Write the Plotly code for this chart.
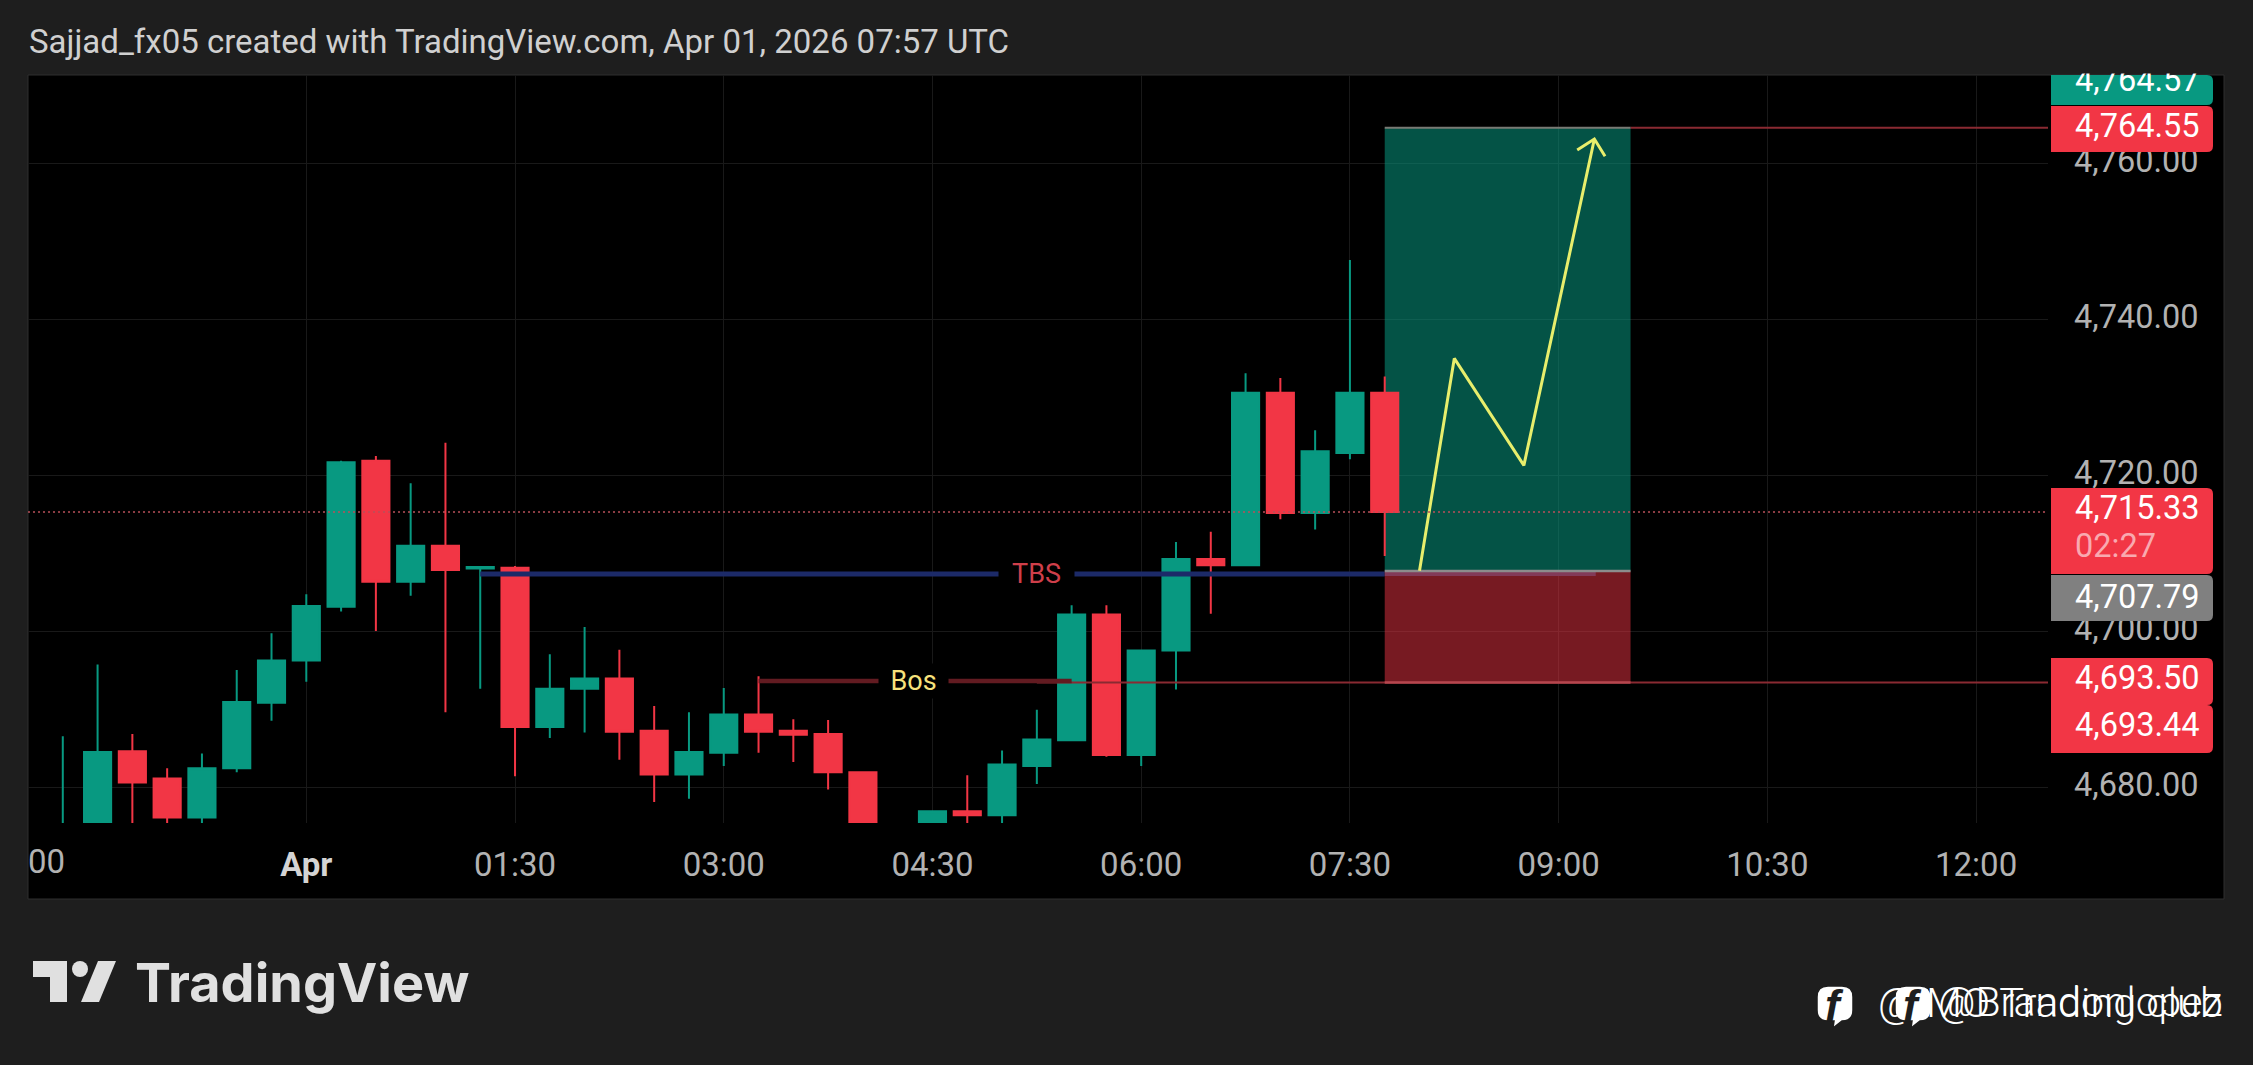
import pandas as pd
import plotly.graph_objects as go

W, H = 2253, 1065
BG = "#1e1e1e"
GREEN = "#089981"
RED = "#f23645"
GRID = "#191919"

start = pd.Timestamp("2026-03-31 22:15")
opens = [4672.0, 4674.0, 4684.7, 4681.2, 4676.2, 4682.5, 4690.9, 4696.3, 4703.2, 4721.9, 4706.4, 4711.0,
         4708.1, 4708.2, 4687.8, 4692.7, 4694.0, 4687.3, 4681.7, 4684.5, 4689.4, 4687.3, 4686.9, 4682.0,
         4674.5, 4675.5, 4677.0, 4676.5, 4682.8, 4686.1, 4702.2, 4684.2, 4697.6, 4709.3, 4708.5, 4730.6,
         4715.2, 4722.9, 4730.6]
highs = [4686.6, 4695.8, 4686.9, 4682.5, 4684.4, 4695.1, 4699.8, 4704.8, 4721.9, 4722.5, 4719.0, 4724.2,
         4708.4, 4708.4, 4697.1, 4700.6, 4697.7, 4690.5, 4689.7, 4692.8, 4694.3, 4688.8, 4688.7, 4682.1,
         4675.0, 4677.1, 4681.6, 4684.8, 4690.0, 4703.4, 4703.4, 4697.6, 4711.5, 4712.8, 4733.1, 4732.5,
         4725.8, 4747.6, 4732.7]
lows = [4670.0, 4672.0, 4674.0, 4675.5, 4675.5, 4682.0, 4688.6, 4693.6, 4702.6, 4700.1, 4704.6, 4689.7,
        4692.7, 4681.5, 4686.4, 4687.1, 4683.6, 4678.2, 4678.6, 4682.8, 4684.5, 4683.3, 4679.8, 4674.0,
        4672.0, 4675.0, 4675.5, 4675.5, 4680.5, 4686.1, 4684.0, 4682.8, 4692.6, 4702.3, 4708.5, 4714.4,
        4713.1, 4722.1, 4709.7]
closes = [4675.0, 4684.6, 4680.7, 4676.2, 4682.5, 4691.0, 4696.3, 4703.3, 4721.7, 4706.4, 4711.0, 4707.9,
          4708.3, 4687.8, 4692.7, 4694.0, 4687.2, 4681.7, 4684.6, 4689.4, 4687.2, 4686.8, 4682.0, 4675.0,
          4673.0, 4677.0, 4676.5, 4683.0, 4686.2, 4702.2, 4684.2, 4697.6, 4709.3, 4708.5, 4730.6, 4715.2,
          4723.1, 4730.6, 4715.33]
times = [start + pd.Timedelta(minutes=15 * i) for i in range(len(opens))]


def at(minutes):
    """Time on the x axis, given in minutes after 1 Apr 00:00."""
    return pd.Timestamp("2026-04-01 00:00") + pd.Timedelta(minutes=minutes)


y_ticks = [4680, 4700, 4720, 4740, 4760]
y_tick_text = ["4,680.00", "4,700.00", "4,720.00", "4,740.00", "4,760.00"]
x_tick_min = [90, 180, 270, 360, 450, 540, 630, 720, 0]
x_tick_text = ["01:30", "03:00", "04:30", "06:00", "07:30", "09:00", "10:30", "12:00",
               "<b style='color:#d4d4d4'>Apr</b>"]

target_price = 4764.55
entry_price = 4707.79
stop_price = 4693.44
bos_price = 4693.7
bos_thin_price = 4693.5
tbs_price = 4707.4
last_price = 4715.33

path_min = [480, 495, 525, 555.4]
path_val = [4707.8, 4735.0, 4721.3, 4763.1]
head_min = [548, 555.4, 560]
head_val = [4761.7, 4763.1, 4760.9]

Y_RANGE = [4675.5, 4771.3]
LABEL_LIFT = 0.38  # axis numbers sit a little above their gridlines


def px(x):
    return x / W


def py(y):
    return 1 - y / H


fig = go.Figure()


def seg(xs, ys, color, width, dash="solid"):
    fig.add_trace(go.Scatter(x=xs, y=ys, mode="lines", hoverinfo="skip", showlegend=False,
                             line=dict(color=color, width=width, dash=dash)))


seg([at(315), at(751)], [bos_thin_price] * 2, "#8a2a32", 2)
seg([at(465), at(571)], [bos_thin_price] * 2, "#b5464e", 2.5)
seg([at(195), at(330)], [bos_price] * 2, "#621b21", 4.5)
seg([at(75), at(465)], [tbs_price] * 2, "#1c2a68", 5)
seg([at(465), at(556)], [tbs_price] * 2, "#823a58", 4)
seg([at(571), at(751)], [target_price] * 2, "#8a2a32", 2)
seg([at(465), at(571)], [target_price] * 2, "#7a7a74", 2)
seg([at(465), at(571)], [entry_price] * 2, "#8c8c8c", 2.5)

fig.add_trace(go.Candlestick(
    x=times, open=opens, high=highs, low=lows, close=closes,
    increasing=dict(line=dict(color=GREEN, width=2), fillcolor=GREEN),
    decreasing=dict(line=dict(color=RED, width=2), fillcolor=RED),
    whiskerwidth=0, showlegend=False))

seg([at(m) for m in path_min], path_val, "#e8ee6c", 3)
seg([at(m) for m in head_min], head_val, "#e8ee6c", 3)

# carries the price axis numbers
fig.add_trace(go.Scatter(x=[times[0]], y=[y_ticks[0]], yaxis="y2", mode="markers", marker=dict(opacity=0),
                         hoverinfo="skip", showlegend=False))

shapes = []
shapes.append(dict(type="rect", xref="paper", yref="paper", x0=px(28), x1=px(2224), y0=py(899), y1=py(75),
                   fillcolor="#000000", line=dict(color="#2e2e2e", width=1), layer="below"))
shapes.append(dict(type="rect", x0=at(465), x1=at(571), y0=entry_price, y1=target_price,
                   fillcolor="rgba(8,153,129,0.54)", line=dict(width=0), layer="between"))
shapes.append(dict(type="rect", x0=at(465), x1=at(571), y0=stop_price, y1=entry_price,
                   fillcolor="rgba(242,54,69,0.49)", line=dict(width=0), layer="between"))
shapes.append(dict(type="line", xref="paper", x0=px(28), x1=px(2048), y0=last_price, y1=last_price,
                   line=dict(color="#b8505a", width=1.5, dash="2px,3px"), layer="above"))


def rounded(x0, x1, y0, y1, color, r=6):
    path = (f"M {px(x0)},{py(y0)} L {px(x1 - r)},{py(y0)} Q {px(x1)},{py(y0)} {px(x1)},{py(y0 + r)} "
            f"L {px(x1)},{py(y1 - r)} Q {px(x1)},{py(y1)} {px(x1 - r)},{py(y1)} L {px(x0)},{py(y1)} Z")
    shapes.append(dict(type="path", xref="paper", yref="paper", path=path, fillcolor=color,
                       line=dict(width=0), layer="above"))


rounded(2051, 2213, 75, 105, GREEN)
rounded(2051, 2213, 106, 152, RED)
rounded(2051, 2213, 488, 574, RED)
rounded(2051, 2213, 575, 621, "#808080")
rounded(2051, 2213, 658, 705, RED)
rounded(2051, 2213, 705, 753, RED)


def poly(points, color, layer="above"):
    path = "M " + " L ".join(f"{px(x)},{py(y)}" for x, y in points) + " Z"
    shapes.append(dict(type="path", xref="paper", yref="paper", path=path, fillcolor=color,
                       line=dict(width=0), layer=layer))


LOGO = "#e0e0e0"
poly([(33, 961), (67, 961), (67, 1002), (50, 1002), (50, 977), (33, 977)], LOGO)
poly([(98, 961), (116, 961), (99, 1002), (81, 1002)], LOGO)
shapes.append(dict(type="circle", xref="paper", yref="paper", x0=px(72), x1=px(88), y0=py(977), y1=py(961),
                   fillcolor=LOGO, line=dict(width=0)))


def fb(x0):
    y0, y1, x1 = 986, 1021, x0 + 36
    r = 11
    path = (f"M {px(x0 + r)},{py(y0)} L {px(x1 - r)},{py(y0)} Q {px(x1)},{py(y0)} {px(x1)},{py(y0 + r)} "
            f"L {px(x1)},{py(y1 - r)} Q {px(x1)},{py(y1)} {px(x1 - r)},{py(y1)} L {px(x0 + 25)},{py(y1)} "
            f"L {px(x0 + 16)},{py(y1 + 7)} L {px(x0 + 17)},{py(y1)} L {px(x0 + r)},{py(y1)} "
            f"Q {px(x0)},{py(y1)} {px(x0)},{py(y1 - r)} L {px(x0)},{py(y0 + r)} Q {px(x0)},{py(y0)} {px(x0 + r)},{py(y0)} Z")
    shapes.append(dict(type="path", xref="paper", yref="paper", path=path, fillcolor="#ffffff",
                       line=dict(color=BG, width=1.5), layer="above"))


fb(1817)
fb(1895)


def note(text, x, y, size, color, xanchor="left", family="Roboto", **kw):
    fig.add_annotation(text=text, xref="paper", yref="paper", x=px(x), y=py(y), showarrow=False,
                       xanchor=xanchor, yanchor="middle", align="left",
                       font=dict(family=family, size=size, color=color), **kw)


note("4,764.57", 2073, 80, 32.5, "#ffffff")
fig.add_annotation(text=" ", xref="paper", yref="paper", x=px(2051), y=py(74), xanchor="left", yanchor="bottom",
                   showarrow=False, width=170, height=30, bgcolor=BG, borderpad=0)
note("4,764.55", 2073, 126, 32.5, "#ffffff")
note("4,715.33", 2073, 508, 32.5, "#ffffff")
note("02:27", 2073, 546, 32.5, "#f9a9b0")
note("4,707.79", 2073, 597, 32.5, "#ffffff")
note("4,693.50", 2073, 678, 32.5, "#ffffff")
note("4,693.44", 2073, 725, 32.5, "#ffffff")

note("00", 67, 861, 33, "#b2b2b2", xanchor="right")

fig.add_annotation(text="TBS", x=at(315), y=tbs_price, showarrow=False, width=73, height=32, bgcolor="#000000",
                   font=dict(family="Roboto", size=27, color="#cf3f4a"))
fig.add_annotation(text="Bos", x=at(262), y=bos_price, showarrow=False, width=67, height=32, bgcolor="#000000",
                   font=dict(family="Roboto", size=27, color="#f7e27c"))

note("Sajjad_fx05 created with TradingView.com, Apr 01, 2026 07:57 UTC", 27, 42, 33, "#d0d0d0")
note("<b>TradingView</b>", 133, 982, 54, LOGO, family="Inter")
note("@ MO Trading club", 2225, 1002, 41.5, "#ffffff", xanchor="right", family="Roboto Light")
note("@Brandonlopez", 2225, 1002, 41, "#ffffff", xanchor="right", family="Roboto Light")
note("<b><i>f</i></b>", 1834, 1005, 44, BG, xanchor="center", family="Liberation Sans")
note("<b><i>f</i></b>", 1912, 1005, 44, BG, xanchor="center", family="Liberation Sans")

fig.update_layout(
    width=W, height=H, autosize=False, margin=dict(l=0, r=0, t=0, b=0),
    paper_bgcolor=BG, plot_bgcolor="#000000", shapes=shapes, showlegend=False, boxgap=0.22, boxgroupgap=0,
    boxmode="overlay", hovermode=False,
    xaxis=dict(domain=[px(28), px(2048)], range=[at(-120), at(751)], rangeslider=dict(visible=False),
               tickmode="array", tickvals=[at(m) for m in x_tick_min], ticktext=x_tick_text, tickangle=0,
               tickfont=dict(family="Roboto", size=33, color="#b2b2b2"), ticks="", ticklabelstandoff=19,
               showgrid=True, gridcolor=GRID, gridwidth=1, zeroline=False, showline=False),
    yaxis=dict(domain=[py(823), py(75)], range=Y_RANGE, side="right", showticklabels=False,
               tickmode="array", tickvals=y_ticks, ticks="",
               showgrid=True, gridcolor=GRID, gridwidth=1, zeroline=False, showline=False),
    yaxis2=dict(domain=[py(823), py(75)], overlaying="y", side="right",
                range=[Y_RANGE[0] - LABEL_LIFT, Y_RANGE[1] - LABEL_LIFT],
                tickmode="array", tickvals=y_ticks, ticktext=y_tick_text,
                tickfont=dict(family="Roboto", size=32.5, color="#b2b2b2"), ticks="", ticklabelstandoff=25,
                showgrid=False, zeroline=False, showline=False),
)

fig.write_html("out.html", config=dict(displayModeBar=False),
               post_script="document.body.style.margin='0';document.body.style.background='#1e1e1e';")
